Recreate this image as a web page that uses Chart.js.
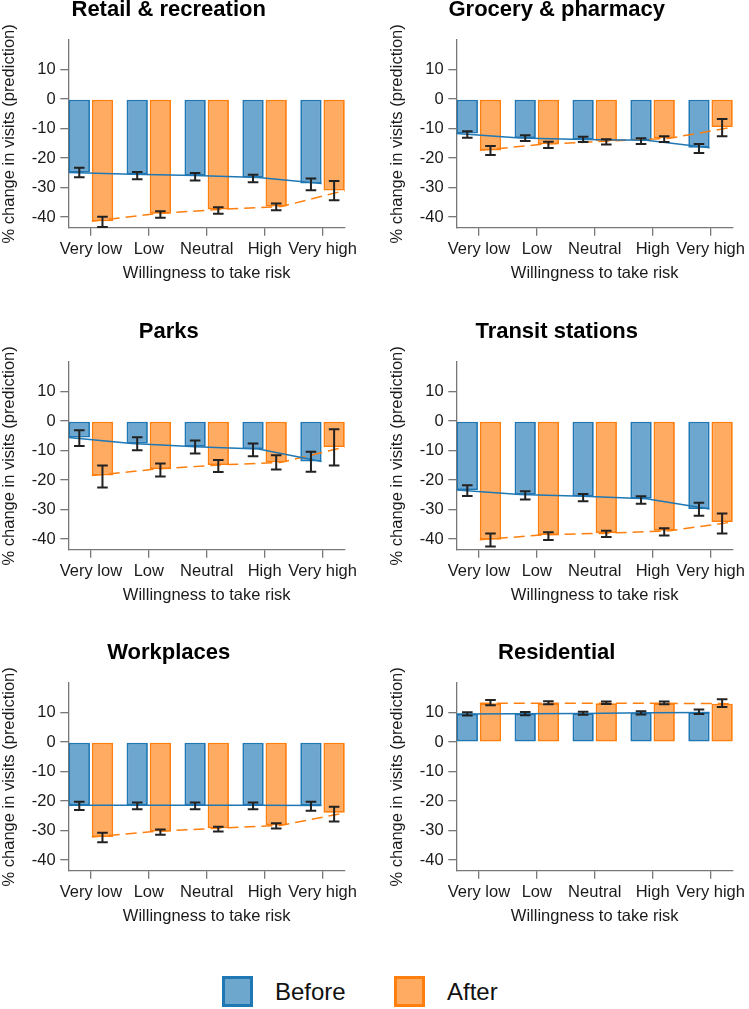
<!DOCTYPE html>
<html><head><meta charset="utf-8">
<script src="https://cdn.jsdelivr.net/npm/chart.js@4.4.1/dist/chart.umd.min.js"></script>
<style>
html,body{margin:0;padding:0;background:#fff;overflow:hidden;width:749px;height:1009px;position:relative;}
canvas{position:absolute;}
.sw{position:absolute;width:25px;height:25px;border:3px solid;}
.lt{position:absolute;font-family:"Liberation Sans",Arial,sans-serif;font-size:24px;line-height:31px;color:#111;}
</style></head><body>
<div class="sw" style="left:222px;top:976px;border-color:#1f77b4;background:#6da7ce"></div>
<div class="lt" style="left:275px;top:976px">Before</div>
<div class="sw" style="left:394px;top:976px;border-color:#ff7f0e;background:#ffac62"></div>
<div class="lt" style="left:447px;top:976px">After</div>
<script>
// ---------- data ----------
const categories = ["Very low", "Low", "Neutral", "High", "Very high"];
const yTicks = [-40, -30, -20, -10, 0, 10];
const panelTitles = ["Retail & recreation", "Grocery & pharmacy", "Parks", "Transit stations", "Workplaces", "Residential"];
const seriesNames = ["Before", "After"];

const retailBefore   = [-24.9, -25.5, -25.9, -26.6, -28.6];
const retailBeforeCI = [[-23.3,-26.5],[-24.7,-27.2],[-25.1,-27.6],[-25.7,-28.2],[-26.9,-30.9]];
const retailAfter    = [-41.4, -38.9, -37.4, -36.4, -31.0];
const retailAfterCI  = [[-39.9,-43.4],[-38.0,-40.2],[-36.7,-38.9],[-35.4,-37.7],[-27.8,-34.3]];

const groceryBefore   = [-11.7, -13.2, -13.7, -14.0, -16.5];
const groceryBeforeCI = [[-10.9,-13.1],[-12.3,-14.2],[-12.8,-14.6],[-13.3,-15.2],[-15.2,-18.3]];
const groceryAfter    = [-17.4, -15.3, -14.3, -13.3, -9.5];
const groceryAfterCI  = [[-15.9,-19.0],[-14.5,-16.6],[-13.6,-15.4],[-12.6,-14.6],[-6.8,-12.6]];

const parksBefore   = [-5.6, -7.6, -8.7, -9.5, -13.7];
const parksBeforeCI = [[-3.1,-8.5],[-5.5,-9.9],[-6.6,-11.0],[-7.6,-11.9],[-10.4,-17.2]];
const parksAfter    = [-18.5, -16.3, -14.9, -14.0, -8.8];
const parksAfterCI  = [[-15.1,-22.5],[-14.4,-18.8],[-13.2,-17.3],[-11.6,-16.4],[-2.8,-15.1]];

const transitBefore   = [-23.4, -24.9, -25.5, -26.3, -29.8];
const transitBeforeCI = [[-21.8,-25.4],[-23.8,-26.6],[-24.7,-27.2],[-25.5,-28.0],[-27.7,-32.1]];
const transitAfter    = [-40.2, -38.6, -38.0, -37.2, -34.2];
const transitAfterCI  = [[-38.1,-42.5],[-37.7,-40.3],[-37.2,-39.3],[-36.3,-38.8],[-31.3,-38.1]];

const workBefore   = [-21.4, -21.4, -21.4, -21.4, -21.5];
const workBeforeCI = [[-20.2,-23.0],[-20.5,-22.8],[-20.5,-22.8],[-20.5,-22.8],[-20.2,-23.3]];
const workAfter    = [-32.2, -30.3, -29.2, -28.2, -24.0];
const workAfterCI  = [[-30.7,-34.0],[-29.6,-31.4],[-28.7,-30.3],[-27.5,-29.3],[-21.9,-26.9]];

const resBefore   = [9.5, 9.6, 9.7, 9.9, 10.0];
const resBeforeCI = [[10.1,9.0],[10.2,9.1],[10.3,9.2],[10.4,9.3],[11.0,9.5]];
const resAfter    = [13.1, 13.1, 13.1, 13.1, 13.0];
const resAfterCI  = [[14.2,12.5],[13.8,12.8],[13.7,12.9],[13.7,12.8],[14.5,11.9]];

// ---------- style / layout ----------
const FONT = '"Liberation Sans", Arial, sans-serif';
const BLUE = '#1f77b4', BLUE_FILL = 'rgba(31,119,180,0.65)';
const ORANGE = '#ff7f0e', ORANGE_FILL = 'rgba(255,127,14,0.65)';
const AXIS = '#777';
const CP = 0.8, BP = 0.92;
const colLeft = [-25, 363];
const rowTop = [0, 322, 643];
const CW = 387, CH = 300;

const errorBarPlugin = {
  id: 'errbars',
  afterDatasetsDraw(chart) {
    const ctx = chart.ctx, ys = chart.scales.y;
    chart.data.datasets.forEach((ds, di) => {
      if (!ds.ci) return;
      const meta = chart.getDatasetMeta(di);
      meta.data.forEach((el, i) => {
        const [a, b] = ds.ci[i];
        const x = el.x, ya = ys.getPixelForValue(a), yb = ys.getPixelForValue(b);
        ctx.save();
        ctx.strokeStyle = '#222'; ctx.lineWidth = 2;
        ctx.beginPath();
        ctx.moveTo(x, ya); ctx.lineTo(x, yb);
        ctx.moveTo(x - 5.3, ya); ctx.lineTo(x + 5.3, ya);
        ctx.moveTo(x - 5.3, yb); ctx.lineTo(x + 5.3, yb);
        ctx.stroke();
        ctx.restore();
      });
    });
  }
};

function makePanel(idx, before, beforeCI, after, afterCI) {
  const cv = document.createElement('canvas');
  cv.width = CW; cv.height = CH;
  cv.style.left = colLeft[idx % 2] + 'px';
  cv.style.top = rowTop[Math.floor(idx / 2)] + 'px';
  cv.style.width = CW + 'px'; cv.style.height = CH + 'px';
  document.body.appendChild(cv);

  const n = categories.length;
  const bS = -(CP / 4) * (1 + BP), bE = (n - 1) - (CP / 4) * (1 - BP);
  const oS = (CP / 4) * (1 - BP), oE = (n - 1) + (CP / 4) * (1 + BP);
  const lineB = before.map((v, i) => ({x: bS + i * (bE - bS) / (n - 1), y: v}));
  const lineO = after.map((v, i) => ({x: oS + i * (oE - oS) / (n - 1), y: v}));

  new Chart(cv, {
    type: 'bar',
    data: {
      datasets: [
        {type: 'line', data: lineB, borderColor: BLUE, borderWidth: 1.5, pointRadius: 0, fill: false, order: 0},
        {type: 'line', data: lineO, borderColor: ORANGE, borderWidth: 1.5, borderDash: [11, 6], pointRadius: 0, fill: false, order: 0},
        {label: seriesNames[0], data: before.map((v, i) => ({x: i, y: v})), ci: beforeCI,
         backgroundColor: BLUE_FILL, borderColor: BLUE, borderWidth: 1.8, borderSkipped: false,
         categoryPercentage: CP, barPercentage: BP, order: 1},
        {label: seriesNames[1], data: after.map((v, i) => ({x: i, y: v})), ci: afterCI,
         backgroundColor: ORANGE_FILL, borderColor: ORANGE, borderWidth: 1.8, borderSkipped: false,
         categoryPercentage: CP, barPercentage: BP, order: 1}
      ]
    },
    options: {
      responsive: false, animation: false, devicePixelRatio: 1,
      layout: {autoPadding: false, padding: {left: 13.4, right: 13, top: 0, bottom: 12.3}},
      plugins: {
        legend: {display: false}, tooltip: {enabled: false},
        title: {display: true, text: panelTitles[idx], color: '#000',
                font: {family: FONT, size: 22, weight: 'bold', lineHeight: '20px'},
                padding: {top: 0, bottom: 20}}
      },
      scales: {
        x: {
          type: 'linear', min: -0.39, max: 4.39, offset: false,
          afterBuildTicks: ax => { ax.ticks = categories.map((c, i) => ({value: i})); },
          afterFit: ax => { ax.height = 60; },
          grid: {display: true, offset: false, drawOnChartArea: false, drawTicks: true, tickLength: 8, color: AXIS, lineWidth: 1.3},
          border: {display: true, color: AXIS, width: 1.3},
          ticks: {padding: 4, color: '#1a1a1a', font: {family: FONT, size: 16.5}, maxRotation: 0, autoSkip: false,
                  callback: v => categories[v]},
          title: {display: true, text: 'Willingness to take risk', color: '#1a1a1a',
                  font: {family: FONT, size: 16.5}, padding: {top: 4, bottom: 4}}
        },
        y: {
          min: -43.6, max: 20,
          afterBuildTicks: ax => { ax.ticks = yTicks.map(v => ({value: v})); },
          afterFit: ax => { ax.width = 79.9; },
          grid: {display: true, drawOnChartArea: false, drawTicks: true, tickLength: 8, color: AXIS, lineWidth: 1.3},
          border: {display: true, color: AXIS, width: 1.3},
          ticks: {padding: 4.6, color: '#1a1a1a', font: {family: FONT, size: 16.5}, callback: v => String(v)},
          title: {display: true, text: '% change in visits (prediction)', color: '#1a1a1a',
                  font: {family: FONT, size: 16.5}, padding: {top: 11, bottom: 0}}
        }
      }
    },
    plugins: [errorBarPlugin]
  });
}

makePanel(0, retailBefore, retailBeforeCI, retailAfter, retailAfterCI);
makePanel(1, groceryBefore, groceryBeforeCI, groceryAfter, groceryAfterCI);
makePanel(2, parksBefore, parksBeforeCI, parksAfter, parksAfterCI);
makePanel(3, transitBefore, transitBeforeCI, transitAfter, transitAfterCI);
makePanel(4, workBefore, workBeforeCI, workAfter, workAfterCI);
makePanel(5, resBefore, resBeforeCI, resAfter, resAfterCI);
</script>
</body></html>
